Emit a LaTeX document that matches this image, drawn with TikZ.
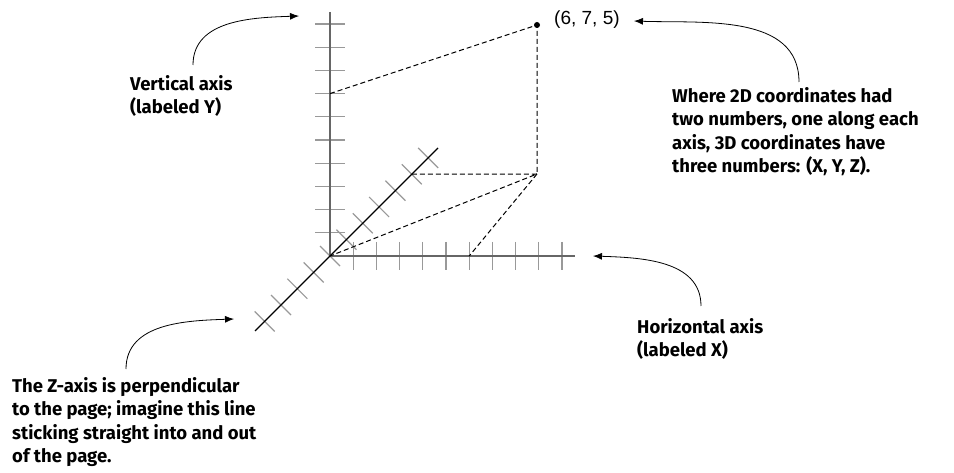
\documentclass[tikz,border=0pt]{standalone}
\usepackage{fontspec}
\setmainfont{Fira Sans}
\newfontfamily\pointfont{Liberation Sans}
\usetikzlibrary{positioning,arrows.meta}

\begin{document}
\begin{tikzpicture}[x=1pt,y=-1pt,>={Latex[length=9pt,width=7pt]}]
  \tikzstyle{axis}=[draw=black!60,line width=1.8pt]
  \tikzstyle{tick}=[draw=black!40,line width=1.2pt]
  \tikzstyle{guide}=[draw=black,line width=1pt,dash pattern=on 5pt off 3pt]
  \tikzstyle{callout}=[font=\fontsize{18.5}{23.5}\selectfont\bfseries,align=left,anchor=north west,inner sep=0pt]
  \tikzstyle{pointer}=[->,line width=0.8pt]

  \useasboundingbox (0,0) rectangle (954,473);

  \coordinate (o) at (330,256);
  \coordinate (ytop) at (330,12);
  \coordinate (xend) at (575,256);
  \coordinate (zlow) at (255,331);
  \coordinate (zhigh) at (438,148);
  \coordinate (p) at (537,25);
  \coordinate (pfloor) at (537,174);
  \coordinate (y7) at (330,93.6);
  \coordinate (x6) at (469.2,256);
  \coordinate (z5) at (411.75,174.25);

  \foreach \k in {1,...,10} {
    \draw[tick] (315,{256-23.2*\k}) -- (345,{256-23.2*\k});
    \draw[tick] ({330+23.2*\k},242) -- ({330+23.2*\k},270);
  }
  \foreach \k in {-4,...,6}
    \draw[tick] ({320+16.35*\k},{246-16.35*\k}) -- ({340+16.35*\k},{266-16.35*\k});

  \draw[axis] (ytop) -- (o) -- (xend);
  \draw[line width=1.2pt] (zlow) -- (zhigh);

  \draw[guide] (y7) -- (p) -- (pfloor);
  \draw[guide] (z5) -- (pfloor) -- (o);
  \draw[guide] (pfloor) -- (x6);
  \fill (p) circle (3pt);
  \node[anchor=west,inner sep=0pt,font=\pointfont\fontsize{19}{20}\selectfont] (plab) at (554,20) {(6, 7, 5)};

  \node[callout] (vlab) at (130,75) {Vertical axis\\(labeled Y)};
  \node[callout] (zlab) at (12,377) {The Z-axis is perpendicular\\to the page; imagine this line\\sticking straight into and out\\of the page.};
  \node[callout] (wlab) at (672,87) {Where 2D coordinates had\\two numbers, one along each\\axis, 3D coordinates have\\three numbers: (X, Y, Z).};
  \node[callout] (hlab) at (637,318) {Horizontal axis\\(labeled X)};

  \coordinate (vtip) at (299,16);
  \coordinate (ztip) at (234,319);
  \coordinate (wtip) at (634,21);
  \coordinate (htip) at (593,256);

  \draw[pointer] ([xshift=63pt,yshift=10pt]vlab.north west) to[out=90,in=182] (vtip);
  \draw[pointer] ([xshift=114pt,yshift=8pt]zlab.north west) to[out=90,in=182] (ztip);
  \draw[pointer] ([xshift=127pt,yshift=5pt]wlab.north west) to[out=90,in=-2] (wtip);
  \draw[pointer] ([xshift=64pt,yshift=12pt]hlab.north west) to[out=90,in=-2] (htip);
\end{tikzpicture}
\end{document}
